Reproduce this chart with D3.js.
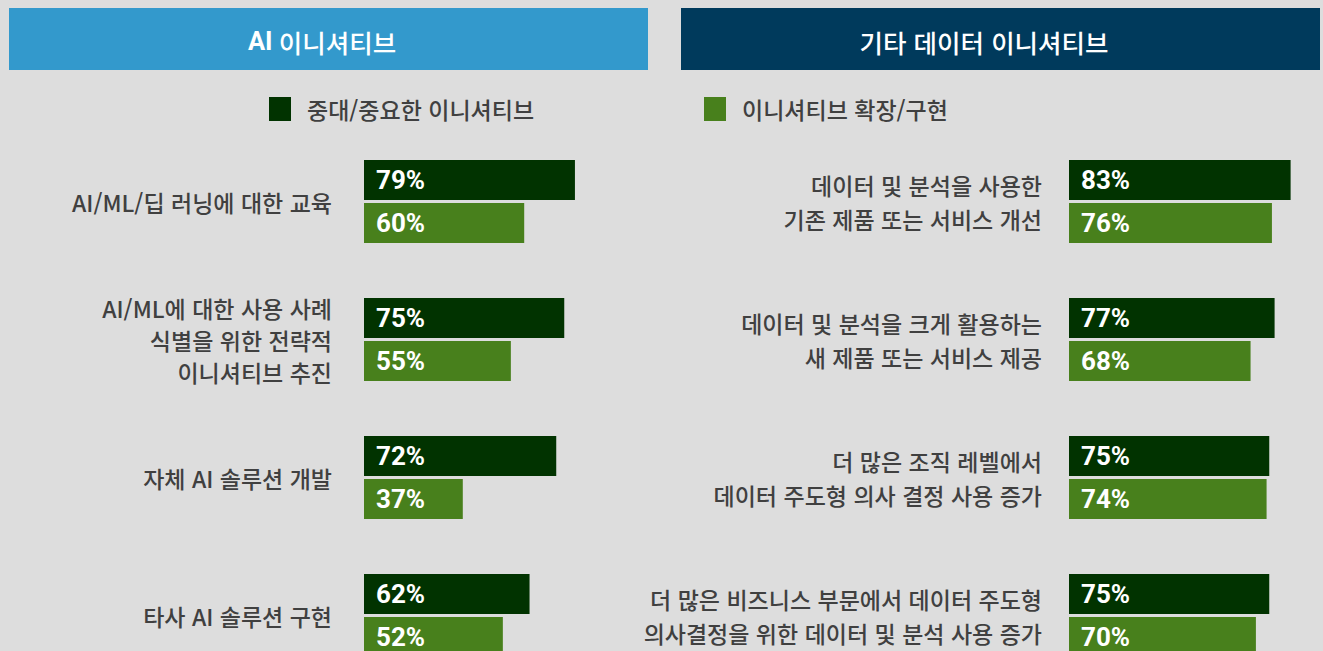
<!DOCTYPE html>
<html lang="ko">
<head>
<meta charset="UTF-8">
<title>AI 이니셔티브 / 기타 데이터 이니셔티브</title>
<script src="https://d3js.org/d3.v7.min.js"></script>
<style>
  body { margin: 0; background: #dddddd; }
  svg { display: block; }
  .label { font-family: "Noto Sans CJK KR", "Noto Sans", sans-serif; font-size: 23px; fill: #404040; font-weight: 500; }
  .value { font-family: Roboto, "Noto Sans", sans-serif; font-size: 26px; font-weight: 700; fill: #ffffff; }
  .head { font-family: "Noto Sans CJK KR", sans-serif; font-size: 25.5px; fill: #ffffff; font-weight: 500; }
</style>
</head>
<body>
<div id="chart"></div>
<script>
// series names (legend)
const seriesNames = ["중대/중요한 이니셔티브", "이니셔티브 확장/구현"];

// left panel: AI initiatives
const aiTitle = "이니셔티브";
const aiCategories = [
  ["AI/ML/딥 러닝에 대한 교육"],
  ["AI/ML에 대한 사용 사례", "식별을 위한 전략적", "이니셔티브 추진"],
  ["자체 AI 솔루션 개발"],
  ["타사 AI 솔루션 구현"]
];
const aiMajor = [79, 75, 72, 62];
const aiExpand = [60, 55, 37, 52];

// right panel: other data initiatives
const otherTitle = "기타 데이터 이니셔티브";
const otherCategories = [
  ["데이터 및 분석을 사용한", "기존 제품 또는 서비스 개선"],
  ["데이터 및 분석을 크게 활용하는", "새 제품 또는 서비스 제공"],
  ["더 많은 조직 레벨에서", "데이터 주도형 의사 결정 사용 증가"],
  ["더 많은 비즈니스 부문에서 데이터 주도형", "의사결정을 위한 데이터 및 분석 사용 증가"]
];
const otherMajor = [83, 77, 75, 75];
const otherExpand = [76, 68, 74, 70];

const W = 1323, H = 651;
const colors = d3.scaleOrdinal().domain(seriesNames).range(["#013300", "#48801c"]);

const svg = d3.select("#chart").append("svg")
  .attr("width", W).attr("height", H);

svg.append("rect").attr("width", W).attr("height", H).attr("fill", "#dddddd");

// shared scales
const x = d3.scaleLinear().domain([0, 100]).range([0, 267]);
const row = d3.scaleBand().domain(d3.range(4)).range([160, 712]);
const inner = d3.scaleBand().domain(seriesNames).range([0, 83]).paddingInner(3 / 43);

function drawPanel(p) {
  const g = svg.append("g");

  // header band
  g.append("rect")
    .attr("x", p.x0).attr("y", 8).attr("width", 639).attr("height", 62)
    .attr("fill", p.headColor);
  const t = g.append("text").attr("class", "head")
    .attr("x", p.titleX).attr("y", 41)
    .attr("text-anchor", "middle").attr("dominant-baseline", "central");
  if (p.boldPrefix) {
    t.append("tspan").attr("font-weight", 700)
      .style("font-family", "Roboto, 'Noto Sans', sans-serif").text(p.boldPrefix + " ");
  }
  t.append("tspan").text(p.title);

  p.categories.forEach((lines, i) => {
    const vals = [p.major[i], p.expand[i]];
    const rg = g.append("g").attr("transform", `translate(0,${row(i)})`);

    rg.selectAll("rect.bar").data(seriesNames).enter().append("rect")
      .attr("class", "bar")
      .attr("x", p.barX)
      .attr("y", s => inner(s))
      .attr("width", (s, j) => x(vals[j]))
      .attr("height", inner.bandwidth())
      .attr("fill", s => colors(s));

    rg.selectAll("text.value").data(seriesNames).enter().append("text")
      .attr("class", "value")
      .attr("x", p.barX + 12)
      .attr("y", s => inner(s) + inner.bandwidth() / 2)
      .attr("dominant-baseline", "central")
      .text((s, j) => vals[j] + "%");

    const lh = lines.length > 2 ? 32 : 34;
    const cy = 41.5;
    const lbl = rg.append("text").attr("class", "label")
      .attr("text-anchor", "end");
    lines.forEach((ln, k) => {
      lbl.append("tspan")
        .attr("x", p.labelX)
        .attr("y", cy + (k - (lines.length - 1) / 2) * lh)
        .attr("dominant-baseline", "central")
        .text(ln);
    });
  });
}

drawPanel({ x0: 9, titleX: 322, headColor: "#3399cc", boldPrefix: "AI", title: aiTitle,
  categories: aiCategories, major: aiMajor, expand: aiExpand, barX: 364, labelX: 332 });
drawPanel({ x0: 681, titleX: 984, headColor: "#003a5c", boldPrefix: null, title: otherTitle,
  categories: otherCategories, major: otherMajor, expand: otherExpand, barX: 1069, labelX: 1042 });

// legend
const legendX = [269, 704];
const legend = svg.append("g");
seriesNames.forEach((s, i) => {
  const lg = legend.append("g").attr("transform", `translate(${legendX[i]},97)`);
  lg.append("rect").attr("width", 22).attr("height", 24).attr("fill", colors(s));
  lg.append("text").attr("class", "label")
    .attr("x", 38).attr("y", 12).attr("dominant-baseline", "central")
    .text(s);
});
</script>
</body>
</html>
